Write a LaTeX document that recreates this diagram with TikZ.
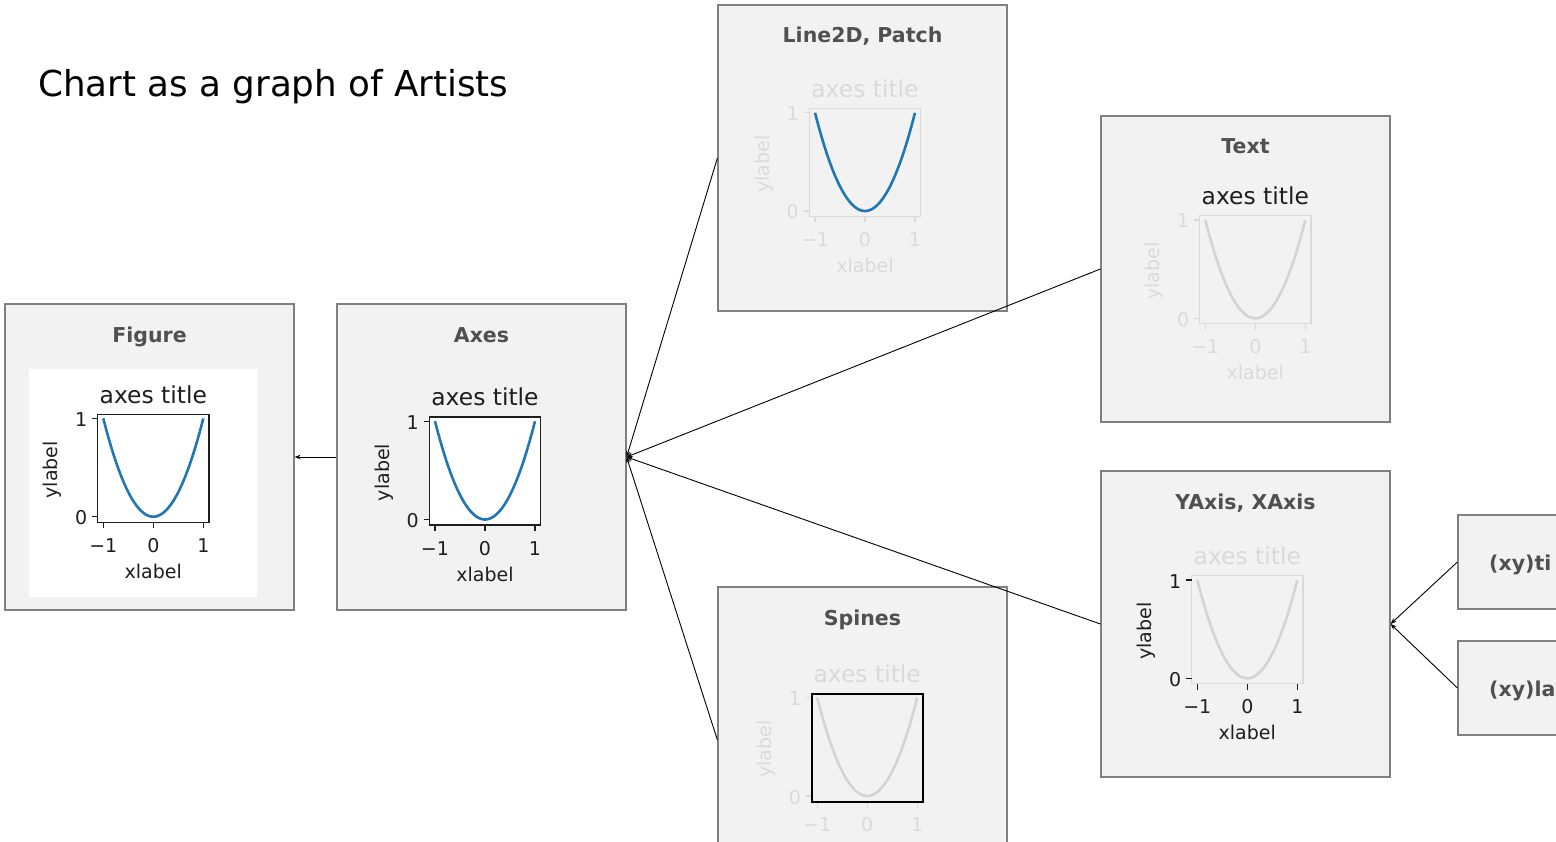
\documentclass[tikz,border=0pt]{standalone}
\usepackage{fontspec}
\setmainfont{DejaVu Sans}
\usetikzlibrary{arrows.meta}
\definecolor{boxfill}{RGB}{242,242,242}
\definecolor{boxdraw}{RGB}{128,128,128}
\definecolor{btitlec}{RGB}{80,80,80}
\definecolor{fadec}{RGB}{218,218,218}
\definecolor{fadecurve}{RGB}{212,212,212}
\definecolor{darkc}{RGB}{30,30,30}
\definecolor{mplblue}{RGB}{31,119,180}
\tikzset{
  abox/.style={draw=boxdraw, fill=boxfill, line width=1.2pt, minimum width=289pt, minimum height=306pt, inner sep=0pt},
  sbox/.style={abox, minimum height=94pt},
  btit/.style={text=btitlec, font=\fontsize{20.5}{24}\selectfont\bfseries, inner sep=0pt},
  ticklab/.style={font=\fontsize{19}{22}\selectfont, inner sep=0pt},
  axtitle/.style={font=\fontsize{23.4}{27}\selectfont, inner sep=0pt},
  mcurve/.style={line width=2.6pt, line join=round},
  mframe/.style={line width=1.3pt},
  mtick/.style={line width=1.3pt},
  conn/.style={draw=black, line width=0.9pt, -{Stealth[length=6pt,width=4.5pt]}},
}
% #1 name, #2 ox, #3 oy, #4 title colour, #5 frame style, #6 curve colour, #7 axis colour
\newcommand\mplot[7]{%
  \draw[mcurve, #6] plot[domain=-1:1, samples=61] ({#2+50*\x},{#3-98.3*\x*\x});
  \draw[mframe, #5] (#2-55.5,#3-102.5) rectangle (#2+55.7,#3+5.5);
  \draw[mtick, #7] (#2-55.5,#3) -- (#2-61.5,#3) (#2-55.5,#3-98.3) -- (#2-61.5,#3-98.3)
    (#2-50,#3+5.5) -- (#2-50,#3+11.5) (#2,#3+5.5) -- (#2,#3+11.5) (#2+50,#3+5.5) -- (#2+50,#3+11.5);
  \node[ticklab, text=#7, anchor=base east] (#1-y0) at (#2-66,#3+8) {0};
  \node[ticklab, text=#7, anchor=base east] (#1-y1) at (#2-66,#3-90.3) {1};
  \node[ticklab, text=#7, anchor=base] (#1-xm) at (#2-50,#3+35.5) {−1};
  \node[ticklab, text=#7, anchor=base] (#1-x0) at (#2,#3+35.5) {0};
  \node[ticklab, text=#7, anchor=base] (#1-x1) at (#2+50,#3+35.5) {1};
  \node[ticklab, text=#7, anchor=base] (#1-xl) at (#2,#3+61.5) {xlabel};
  \node[ticklab, text=#7, anchor=base, rotate=90] (#1-yl) at (#2-96,#3-47) {ylabel};
  \node[axtitle, text=#4, anchor=base] (#1-tt) at (#2,#3-113.5) {axes title};
}
\begin{document}
\begin{tikzpicture}[x=1pt,y=-1pt]
\useasboundingbox (0,0) rectangle (1556,842);
\clip (0,0) rectangle (1556,842);
\fill[white] (0,0) rectangle (1556,842);

\node[anchor=base west, inner sep=0pt, font=\fontsize{35.7}{40}\selectfont] (maintitle) at (38,97) {Chart as a graph of Artists};

% boxes
\node[abox] (fig) at (149.5,457) {};
\node[abox] (axes) at (481.5,457) {};
\node[abox] (line2d) at (862.5,158) {};
\node[abox] (textb) at (1245.5,269) {};
\node[abox] (yaxis) at (1245.5,624) {};
\node[abox] (spines) at (862.5,740) {};
\node[sbox] (xyt) at (1602.5,562) {};
\node[sbox] (xyl) at (1602.5,688) {};

% box titles
\node[btit, anchor=base] (figt) at (149.5,342) {Figure};
\node[btit, anchor=base] (axest) at (481.5,342) {Axes};
\node[btit, anchor=base] (line2dt) at (862.5,43) {Line2D, Patch};
\node[btit, anchor=base] (textbt) at (1245.5,154) {Text};
\node[btit, anchor=base] (yaxist) at (1245.5,509) {YAxis, XAxis};
\node[btit, anchor=base] (spinest) at (862.5,625) {Spines};
\node[btit, anchor=base west] (xytt) at (1489,570) {(xy)ti};
\node[btit, anchor=base west] (xylt) at (1489,696) {(xy)la};

% mini plots
\node[fill=white, minimum width=228pt, minimum height=228pt, inner sep=0pt] (figbg) at (143,483) {};
\fill[white] (153.3-55.5,516.7-102.5) rectangle (153.3+55.7,516.7+5.5);
\mplot{pf}{153.3}{516.7}{darkc}{darkc}{mplblue}{darkc}
\fill[white] (485-55.5,519.5-102.5) rectangle (485+55.7,519.5+5.5);
\mplot{pa}{485}{519.5}{darkc}{darkc}{mplblue}{darkc}
\mplot{pl}{865}{211}{fadec}{fadec}{mplblue}{fadec}
\mplot{pt}{1255.3}{318.3}{darkc}{fadec}{fadecurve}{fadec}
\mplot{py}{1247.3}{678.3}{fadec}{fadec}{fadecurve}{darkc}
\mplot{ps}{867.2}{796}{fadec}{fadec}{fadecurve}{fadec}
\draw[black, line width=2pt] (867.2-55.5,796-102.5) rectangle (867.2+55.7,796+5.5);

% connectors
\draw[conn] (line2d.west) -- (axes.east);
\draw[conn] (textb.west) -- (axes.east);
\draw[conn] (yaxis.west) -- (axes.east);
\draw[conn] (spines.west) -- (axes.east);
\draw[conn] (axes.west) -- (fig.east);
\draw[conn] (xyt.west) -- (yaxis.east);
\draw[conn] (xyl.west) -- (yaxis.east);
\end{tikzpicture}
\end{document}
